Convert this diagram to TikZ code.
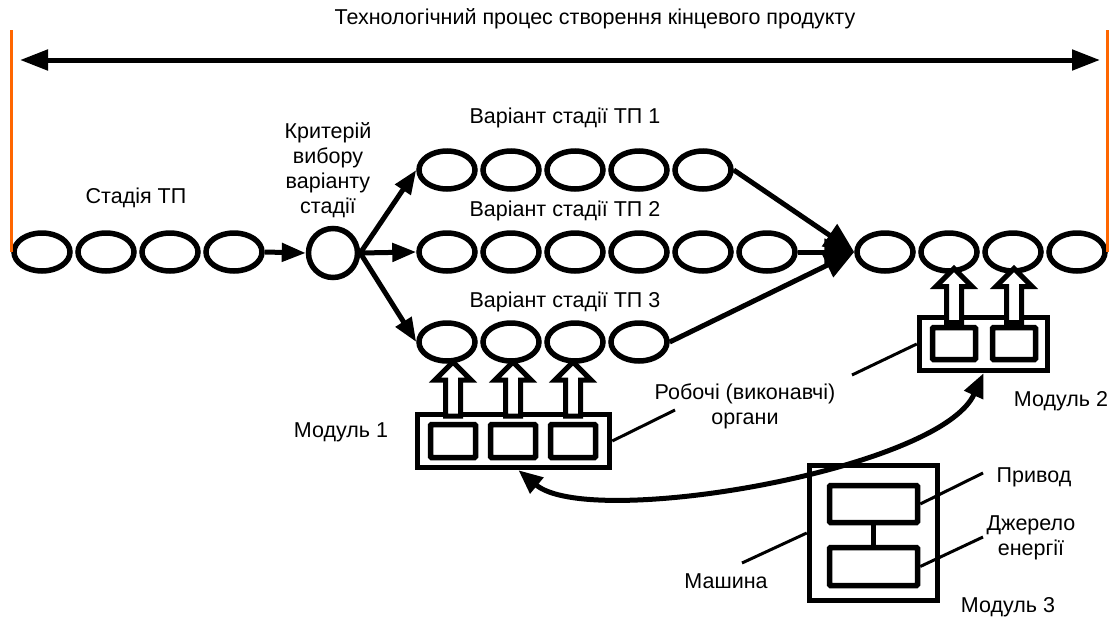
\documentclass[tikz,border=0pt]{standalone}
\usepackage{fontspec}
\setmainfont{Liberation Sans}
\usetikzlibrary{shapes.geometric, shapes.arrows, arrows.meta, calc}
\definecolor{edgeorange}{RGB}{255,102,0}

\begin{document}
\begin{tikzpicture}[x=1pt, y=-1pt,
  font=\fontsize{21.5}{25}\selectfont,
  stage/.style={draw, ellipse, line width=5.5pt, minimum width=56pt, minimum height=38pt, inner sep=0pt},
  crit/.style={draw, circle, line width=5.5pt, minimum size=49pt, inner sep=0pt},
  flow/.style={line width=5pt, -{Triangle[length=24pt, width=18pt]}},
  merge/.style={line width=5pt, -{Triangle[length=30pt, width=26pt]}},
  modbox/.style={draw, line width=5.5pt, inner sep=0pt},
  organ/.style={draw, line width=5.5pt, rounded corners=1pt, inner sep=0pt},
  hollow/.style={single arrow, draw, fill=white, line width=5pt, rotate=90, minimum height=54pt,
    inner sep=5pt, single arrow head extend=10.5pt, single arrow tip angle=90},
  leader/.style={line width=3pt},
  lbl/.style={align=center, inner sep=0pt},
]
\useasboundingbox (0,0) rectangle (1117,621);

% Process span
\node[lbl] (title) at (595,19) {Технологічний процес створення кінцевого продукту};
\coordinate (al) at (20,60);
\coordinate (ar) at (1100,60);
\coordinate (lt) at (0,30);
\draw[line width=5pt, {Triangle[length=28pt, width=20pt]}-{Triangle[length=28pt, width=20pt]}] (al) -- (ar);

% Stages before the choice
\foreach \i in {1,...,4}
  \node[stage] (s\i) at ({42+64*(\i-1)}, 252) {};
\node[lbl] (stlbl) at (136,198) {Стадія ТП};
\node[crit] (crit) at (333,253) {};
\node[lbl] (critlbl) at (328,170) {Критерій\\вибору\\варіанту\\стадії};
\draw[flow] (s4.east) -- (crit.west);

% Stage variants
\foreach \i in {1,...,5}
  \node[stage] (v1\i) at ({447+64*(\i-1)}, 170) {};
\foreach \i in {1,...,6}
  \node[stage] (v2\i) at ({447+64*(\i-1)}, 252) {};
\foreach \i in {1,...,4}
  \node[stage] (v3\i) at ({447+64*(\i-1)}, 342) {};
\node[lbl] (v1lbl) at (565,118) {Варіант стадії ТП 1};
\node[lbl] (v2lbl) at (565,211) {Варіант стадії ТП 2};
\node[lbl] (v3lbl) at (565,302) {Варіант стадії ТП 3};
\draw[flow] (crit.east) -- (v11.west);
\draw[flow] (crit.east) -- (v21.west);
\draw[flow] (crit.east) -- (v31.west);

% Stages after the choice
\foreach \i in {1,...,4}
  \node[stage] (f\i) at ({885+64*(\i-1)}, 252) {};
\draw[merge] (v15.east) -- (f1.west);
\draw[merge] (v26.east) -- (f1.west);
\draw[merge] (v34.east) -- (f1.west);

\draw[edgeorange, line width=3pt] (s1.west) -- (s1.west |- lt);
\draw[edgeorange, line width=3pt] (f4.east) -- (f4.east |- lt);

% Module 1
\node[modbox, minimum width=192pt, minimum height=53pt] (m1) at (513.5,441) {};
\foreach \i/\x in {1/453, 2/513, 3/573} {
  \node[organ, minimum width=45pt, minimum height=33pt] (q1\i) at (\x,441) {};
  \path (q1\i.north) -- (q1\i.north |- v3\i.south) node[hollow, midway] {};
}
\node[lbl] (m1lbl) at (341,432) {Модуль 1};

% Module 2
\node[modbox, minimum width=128pt, minimum height=53pt] (m2) at (983.5,344) {};
\foreach \i/\x in {1/954, 2/1014} {
  \node[organ, minimum width=43pt, minimum height=32pt] (q2\i) at (\x,343.5) {};
}
\path (q21.north) -- (q21.north |- f2.south) node[hollow, midway] {};
\path (q22.north) -- (q22.north |- f3.south) node[hollow, midway] {};
\node[lbl] (m2lbl) at (1061,401) {Модуль 2};

% Working organs
\node[lbl] (orglbl) at (745,406) {Робочі (виконавчі)\\органи};
\coordinate (orgtip1) at (675,410);
\coordinate (orgtip2) at (852,375);
\draw[leader] (m1.east) -- (orgtip1);
\draw[leader] (orgtip2) -- (m2.west);

% Module 3 (machine)
\node[modbox, minimum width=128pt, minimum height=135pt] (m3) at (873.5,533) {};
\node[organ, minimum width=88pt, minimum height=37pt] (drv) at (873.5,504) {};
\node[organ, minimum width=88pt, minimum height=38pt] (src) at (873.5,566.5) {};
\draw[line width=4.5pt] (drv.south) -- (src.north);
\node[lbl] (drvlbl) at (1034,477) {Привод};
\node[lbl] (srclbl) at (1031,538) {Джерело\\енергії};
\node[lbl] (maclbl) at (726,581) {Машина};
\node[lbl] (m3lbl) at (1008,607) {Модуль 3};
\coordinate (drvtip) at (983,473);
\coordinate (srctip) at (983,537);
\coordinate (mactip) at (742,563);
\draw[leader] (drv.east) -- (drvtip);
\draw[leader] (src.east) -- (srctip);
\draw[leader] (m3.west) -- (mactip);

% Energy supply to modules
\draw[line width=5pt, {Triangle[length=24pt, width=20pt]}-{Triangle[length=24pt, width=20pt]}]
  ($(m1.south)+(5,0)$) .. controls (590,530) and (940,470) .. (m2.south);
\end{tikzpicture}
\end{document}
